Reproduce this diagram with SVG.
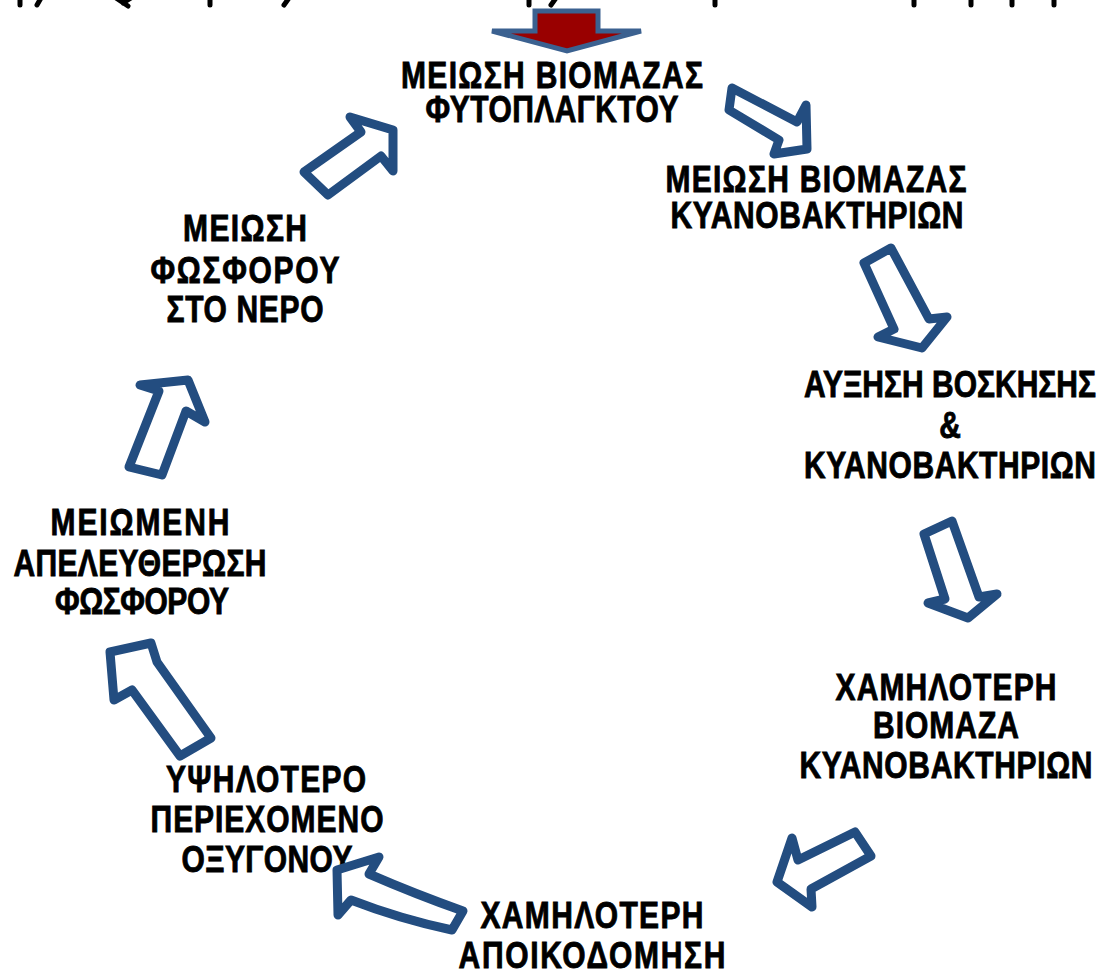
<svg xmlns="http://www.w3.org/2000/svg" width="1101" height="974" viewBox="0 0 1101 974">
  <style>
    .lbl { font-family: "Liberation Sans", Arial, sans-serif; font-weight: bold; font-size: 30px; text-anchor: middle; fill: #000; stroke: #000; stroke-width: 0.7; }
    .mark { stroke: #000; stroke-width: 5; stroke-linecap: round; fill: none; }
    .arrow { fill: #fff; stroke: #234d80; stroke-width: 9; stroke-linejoin: round; }
    .start { fill: #990000; stroke: #3b6190; stroke-width: 5; stroke-linejoin: miter; }
  </style>
  <rect width="1101" height="974" fill="#fff"/>

  <!-- lower ends of a heading line that runs off the top edge -->
  <g id="heading-edge">
    <path class="mark" d="M20,-2 V5 M41,-2 L37,5 M116,-2 L128,6 M131,-2 L123,3 M210,-2 V5 M289,-2 L284,5 M529,-2 V5 M556,-2 L551,5 M715,-2 V5 M914,-2 V5 M971,-2 V5 M1012,-2 V5 M1054,-2 V5"/>
  </g>

  <!-- entry arrow into the cycle -->
  <g id="start-arrow">
    <polygon class="start" points="535,11 598,11 598,31 641,31 567,51 492,31 535,31"/>
  </g>

  <!-- cycle nodes -->
  <g id="n1">
    <text class="lbl" transform="matrix(1 0 0 1.22 552 88)" textLength="302">ΜΕΙΩΣΗ ΒΙΟΜΑΖΑΣ</text>
    <text class="lbl" transform="matrix(1 0 0 1.22 552 122)" textLength="253">ΦΥΤΟΠΛΑΓΚΤΟΥ</text>
  </g>
  <g id="n2">
    <text class="lbl" transform="matrix(1 0 0 1.22 816 192)" textLength="301">ΜΕΙΩΣΗ ΒΙΟΜΑΖΑΣ</text>
    <text class="lbl" transform="matrix(1 0 0 1.22 817 228)" textLength="293">ΚΥΑΝΟΒΑΚΤΗΡΙΩΝ</text>
  </g>
  <g id="n3">
    <text class="lbl" transform="matrix(1 0 0 1.22 950 397)" textLength="292">ΑΥΞΗΣΗ ΒΟΣΚΗΣΗΣ</text>
    <text class="lbl" transform="matrix(1 0 0 1.22 950 438)">&amp;</text>
    <text class="lbl" transform="matrix(1 0 0 1.22 950 478)" textLength="292">ΚΥΑΝΟΒΑΚΤΗΡΙΩΝ</text>
  </g>
  <g id="n4">
    <text class="lbl" transform="matrix(1 0 0 1.22 946 700)" textLength="221">ΧΑΜΗΛΟΤΕΡΗ</text>
    <text class="lbl" transform="matrix(1 0 0 1.22 946 738)" textLength="146">ΒΙΟΜΑΖΑ</text>
    <text class="lbl" transform="matrix(1 0 0 1.22 946 778)" textLength="293">ΚΥΑΝΟΒΑΚΤΗΡΙΩΝ</text>
  </g>
  <g id="n5">
    <text class="lbl" transform="matrix(1 0 0 1.22 592 928)" textLength="223">ΧΑΜΗΛΟΤΕΡΗ</text>
    <text class="lbl" transform="matrix(1 0 0 1.22 592 968)" textLength="267">ΑΠΟΙΚΟΔΟΜΗΣΗ</text>
  </g>
  <g id="n6">
    <text class="lbl" transform="matrix(1 0 0 1.22 266 792)" textLength="200">ΥΨΗΛΟΤΕΡΟ</text>
    <text class="lbl" transform="matrix(1 0 0 1.22 267 832)" textLength="233">ΠΕΡΙΕΧΟΜΕΝΟ</text>
    <text class="lbl" transform="matrix(1 0 0 1.22 267 872)" textLength="171">ΟΞΥΓΟΝΟΥ</text>
  </g>
  <g id="n7">
    <text class="lbl" transform="matrix(1 0 0 1.22 140 535)" textLength="179">ΜΕΙΩΜΕΝΗ</text>
    <text class="lbl" transform="matrix(1 0 0 1.22 140 576)" textLength="253">ΑΠΕΛΕΥΘΕΡΩΣΗ</text>
    <text class="lbl" transform="matrix(1 0 0 1.22 142 614)" textLength="174">ΦΩΣΦΟΡΟΥ</text>
  </g>
  <g id="n8">
    <text class="lbl" transform="matrix(1 0 0 1.22 245 241)" textLength="124">ΜΕΙΩΣΗ</text>
    <text class="lbl" transform="matrix(1 0 0 1.22 245 283)" textLength="189">ΦΩΣΦΟΡΟΥ</text>
    <text class="lbl" transform="matrix(1 0 0 1.22 245 322)" textLength="157">ΣΤΟ ΝΕΡΟ</text>
  </g>

  <!-- block arrows between the nodes -->
  <g id="connectors">
    <polygon class="arrow" points="732,88 797,122 806,105 807,149 774,154 779,140 729,110"/>
    <polygon class="arrow" points="864,263 891,248 929,319 947,317 922,348 878,337 894,329"/>
    <polygon class="arrow" points="924,534 952,521 979,597 997,594 968,618 928,603 945,599"/>
    <polygon class="arrow" points="855,832 871,856 811,889 812,907 777,882 792,838 798,860"/>
    <path class="arrow" d="M379,857 L337,870 L338,915 L351,900 Q400,919 452,930 L463,911 Q415,894 369,874 Z"/>
    <polygon class="arrow" points="110,652 114,700 132,690 180,756 211,738 157,662 151,643"/>
    <polygon class="arrow" points="140,385 188,380 205,422 186,411 162,475 129,467 159,391"/>
    <polygon class="arrow" points="350,117 393,130 393,171 381,156 328,195 304,172 361,132"/>
  </g>
</svg>
